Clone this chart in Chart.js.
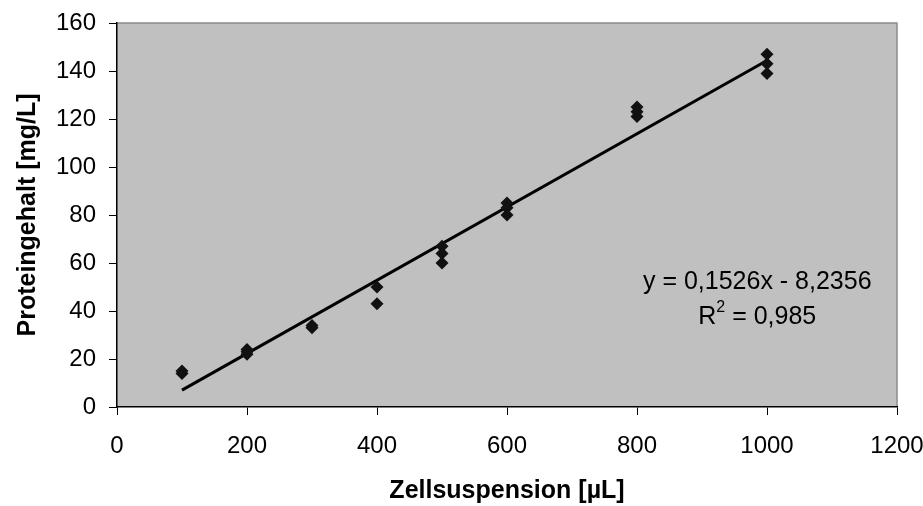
<!DOCTYPE html>
<html>
<head>
<meta charset="utf-8">
<script src="https://cdn.jsdelivr.net/npm/chart.js@4"></script>
<style>
  html, body { margin: 0; padding: 0; background: #fff; }
  #wrap { width: 923px; height: 506px; }
</style>
</head>
<body>
<div id="wrap"><canvas id="myChart" width="923" height="506"></canvas></div>
<script>
///// SCATTER + TRENDLINE /////

Chart.defaults.font.family = '"Liberation Sans", Arial, sans-serif';
Chart.defaults.color = '#000';

// Datas
const volume = [100, 100, 200, 200, 200, 300, 300, 400, 400, 500, 500, 500, 600, 600, 600, 800, 800, 800, 1000, 1000, 1000];
const protein = [14, 15, 24, 22, 23, 33, 34, 50, 43, 67, 64, 60, 85, 83, 80, 125, 123, 121, 147, 143, 139];
const xTicks = [0, 200, 400, 600, 800, 1000, 1200];
const yTicks = [0, 20, 40, 60, 80, 100, 120, 140, 160];

// trendline as printed in the chart
const slope = 0.1526;
const intercept = -8.2356;
const eqText = 'y = 0,1526x - 8,2356';
const r2Text = ' = 0,985';

const points = volume.map((v, i) => ({ x: v, y: protein[i] }));
const xMin = Math.min(...volume);
const xMax = Math.max(...volume);
const trend = [
    { x: xMin, y: slope * xMin + intercept },
    { x: xMax, y: slope * xMax + intercept }
];

// grey plot area + grey top/right frame
const plotBg = {
    id: 'plotBg',
    beforeDraw(chart) {
        const { ctx, chartArea: a } = chart;
        ctx.save();
        ctx.fillStyle = '#c0c0c0';
        ctx.fillRect(a.left, a.top, a.right - a.left, a.bottom - a.top);
        ctx.strokeStyle = '#8c8c8c';
        ctx.lineWidth = 1.5;
        ctx.beginPath();
        ctx.moveTo(a.left, a.top);
        ctx.lineTo(a.right, a.top);
        ctx.lineTo(a.right, a.bottom);
        ctx.stroke();
        ctx.restore();
    }
};

// equation text
const eqLabel = {
    id: 'eqLabel',
    afterDatasetsDraw(chart) {
        const { ctx, scales } = chart;
        const cx = scales.x.getPixelForValue(985);
        const y1 = scales.y.getPixelForValue(52);
        const y2 = scales.y.getPixelForValue(37.5);
        ctx.save();
        ctx.fillStyle = '#000';
        ctx.textBaseline = 'middle';
        ctx.textAlign = 'center';
        ctx.font = '25px "Liberation Sans", Arial, sans-serif';
        ctx.fillText(eqText, cx, y1);
        // R² line, drawn in pieces so the 2 is raised
        const wR = ctx.measureText('R').width;
        const wRest = ctx.measureText(r2Text).width;
        ctx.font = '16px "Liberation Sans", Arial, sans-serif';
        const w2 = ctx.measureText('2').width;
        const total = wR + w2 + wRest;
        let x0 = cx - total / 2;
        ctx.textAlign = 'left';
        ctx.font = '25px "Liberation Sans", Arial, sans-serif';
        ctx.fillText('R', x0, y2);
        ctx.font = '16px "Liberation Sans", Arial, sans-serif';
        ctx.fillText('2', x0 + wR, y2 - 9);
        ctx.font = '25px "Liberation Sans", Arial, sans-serif';
        ctx.fillText(r2Text, x0 + wR + w2, y2);
        ctx.restore();
    }
};

const myChart = new Chart('myChart', {
    type: 'scatter',
    data: {
        datasets: [{
            label: 'Messwerte',
            data: points,
            pointStyle: 'rectRot',
            pointRadius: 6.5,
            pointBackgroundColor: '#111',
            pointBorderColor: '#111',
            pointBorderWidth: 0,
            showLine: false,
            order: 1
        },
        {
            label: 'Linear',
            data: trend,
            showLine: true,
            borderColor: '#000',
            borderWidth: 3,
            pointRadius: 0,
            fill: false,
            order: 2
        }]
    },
    options: {
        responsive: false,
        animation: false,
        events: [],
        layout: { padding: { top: 23, right: 26, left: 0, bottom: 0 } },
        plugins: {
            legend: { display: false },
            tooltip: { enabled: false }
        },
        scales: {
            x: {
                type: 'linear',
                min: 0,
                max: 1200,
                afterBuildTicks: (s) => { s.ticks = xTicks.map(v => ({ value: v })); },
                afterFit: (s) => { s.height = 99; s.paddingRight = 0; s.paddingLeft = 0; },
                grid: { drawOnChartArea: false, drawTicks: true, tickLength: 8, color: '#000' },
                border: { color: '#000', width: 1.5 },
                ticks: { font: { size: 24 }, padding: 17, maxRotation: 0, callback: (v) => String(v) },
                title: {
                    display: true,
                    text: 'Zellsuspension [µL]',
                    font: { size: 25, weight: 'bold' },
                    padding: { top: 0, bottom: 0 }
                }
            },
            y: {
                type: 'linear',
                min: 0,
                max: 160,
                afterBuildTicks: (s) => { s.ticks = yTicks.map(v => ({ value: v })); },
                afterFit: (s) => { s.width = 117; s.paddingTop = 0; s.paddingBottom = 0; },
                grid: { drawOnChartArea: false, drawTicks: true, tickLength: 8, color: '#000' },
                border: { color: '#000', width: 1.5 },
                ticks: { font: { size: 24 }, padding: 13, callback: (v) => String(v) },
                title: {
                    display: true,
                    text: 'Proteingehalt [mg/L]',
                    font: { size: 25, weight: 'bold' },
                    padding: { top: 13, bottom: 0 }
                }
            }
        }
    },
    plugins: [plotBg, eqLabel]
});
</script>
</body>
</html>
